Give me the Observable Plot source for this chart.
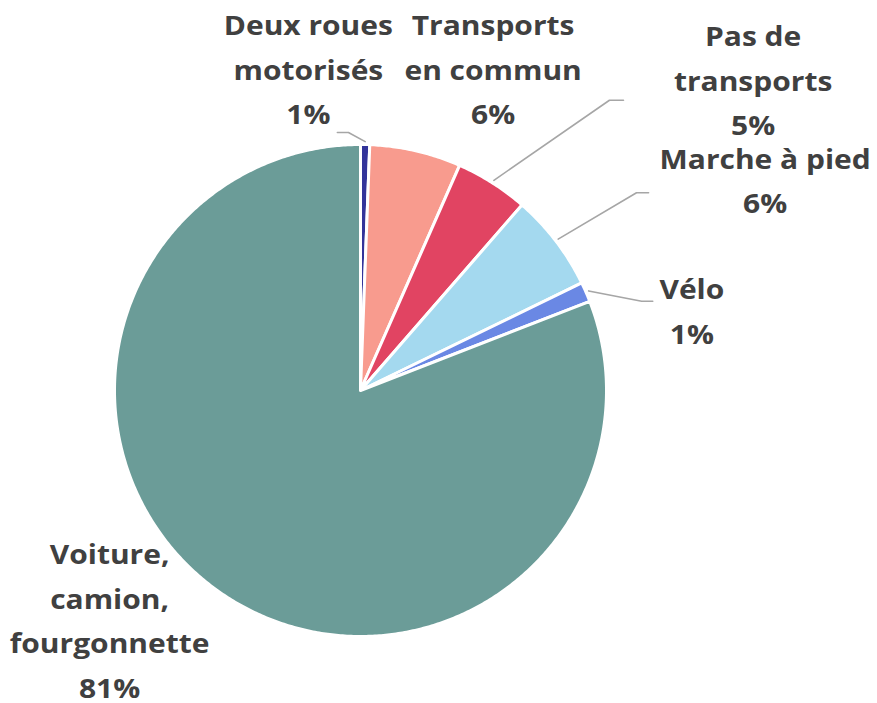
<!DOCTYPE html>
<html>
<head>
<meta charset="utf-8">
<script src="https://cdn.jsdelivr.net/npm/d3@7"></script>
<script src="https://cdn.jsdelivr.net/npm/@observablehq/plot@0.6"></script>
<style>
  html, body { margin: 0; padding: 0; background: #fff; }
  #chart { width: 877px; height: 703px; }
</style>
</head>
<body>
<div id="chart"></div>
<script>
// ---- data ----
const categories = ["Deux roues motorisés", "Transports en commun", "Pas de transports", "Marche à pied", "Vélo", "Voiture, camion, fourgonnette"];
const labelText = ["Deux roues\nmotorisés", "Transports\nen commun", "Pas de\ntransports", "Marche à pied", "Vélo", "Voiture,\ncamion,\nfourgonnette"];
const shares = [0.6, 6.0, 4.8, 6.4, 1.3, 80.9];
const colors = ["#33349A", "#F89B8E", "#E14462", "#A4D9EF", "#6A88E4", "#6B9C98"];

// ---- layout (in pie-radius units, relative to the pie centre) ----
const labelPos = [[-0.212, 1.302], [0.539, 1.302], [1.596, 1.257], [1.645, 0.849], [1.347, 0.318], [-1.02, -0.94]];
const leaderBends = [[[-0.049, 1.049], [-0.094, 1.049]], null, [[1.012, 1.180], [1.069, 1.180]], [[1.122, 0.804], [1.171, 0.804]], [[1.143, 0.363], [1.188, 0.363]], null];

const W = 877, H = 703, R = 246, cx = 360, cy = 390;
const total = d3.sum(shares);

// slices from the top, clockwise
let acc = 0;
const slices = categories.map((name, i) => {
  const a0 = acc / total * 2 * Math.PI;
  acc += shares[i];
  const a1 = acc / total * 2 * Math.PI;
  return {name, i, a0, a1, mid: (a0 + a1) / 2, value: shares[i]};
});

const marks = [];
for (const s of slices) {
  const pts = [{x: 0, y: 0}];
  const n = Math.max(2, Math.ceil((s.a1 - s.a0) / (Math.PI / 360)));
  for (let k = 0; k <= n; k++) {
    const a = s.a0 + (s.a1 - s.a0) * k / n;
    pts.push({x: Math.sin(a), y: Math.cos(a)});
  }
  pts.push({x: 0, y: 0});
  marks.push(Plot.line(pts, {x: "x", y: "y", fill: colors[s.i], stroke: "white", strokeWidth: 3, curve: "linear"}));
}

// leader lines
for (const s of slices) {
  const b = leaderBends[s.i];
  if (!b) continue;
  const pts = [{x: 1.012 * Math.sin(s.mid), y: 1.012 * Math.cos(s.mid)}, {x: b[0][0], y: b[0][1]}, {x: b[1][0], y: b[1][1]}];
  marks.push(Plot.line(pts, {x: "x", y: "y", stroke: "#A6A6A6", strokeWidth: 1.6}));
}

// labels
const labels = slices.map(s => ({
  x: labelPos[s.i][0], y: labelPos[s.i][1],
  text: labelText[s.i] + "\n" + Math.round(s.value / total * 100) + "%"
}));
marks.push(Plot.text(labels, {
  x: "x", y: "y", text: "text", dy: -5,
  fontSize: 27, fontWeight: "bold", fill: "#404040",
  lineHeight: 1.66, textAnchor: "middle",
  fontFamily: "'Open Sans', Lato, sans-serif"
}));

const chart = Plot.plot({
  width: W, height: H,
  marginTop: 0, marginRight: 0, marginBottom: 0, marginLeft: 0,
  x: {domain: [-cx / R, (W - cx) / R], range: [0, W], axis: null},
  y: {domain: [-(H - cy) / R, cy / R], range: [H, 0], axis: null},
  style: {background: "white", fontFamily: "'Open Sans', sans-serif"},
  marks
});
// widen the label glyphs slightly to match the reference's wide bold face
const SX = 1.11;
chart.querySelectorAll("text").forEach(t => {
  const tr = t.getAttribute("transform");
  if (tr) {
    t.setAttribute("transform", tr + ` scale(${SX},1)`);
  } else {
    const x = +t.getAttribute("x") || 0, y = +t.getAttribute("y") || 0;
    t.removeAttribute("x"); t.removeAttribute("y");
    t.setAttribute("transform", `translate(${x},${y}) scale(${SX},1)`);
  }
});
document.getElementById("chart").appendChild(chart);
</script>
</body>
</html>
